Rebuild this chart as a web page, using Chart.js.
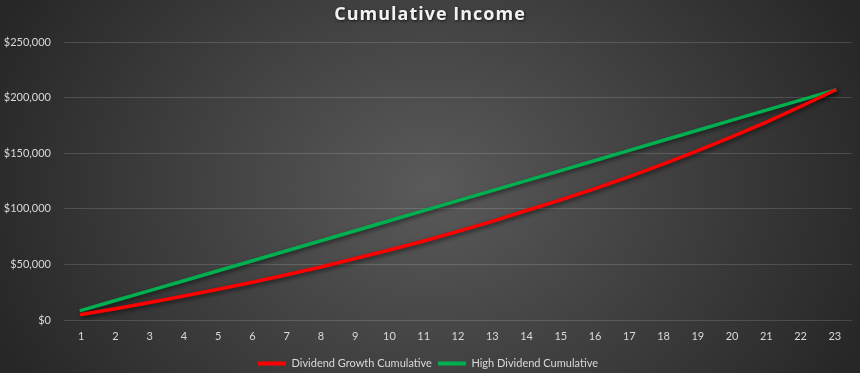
<!DOCTYPE html>
<html>
<head>
<meta charset="utf-8">
<script src="https://cdn.jsdelivr.net/npm/chart.js@4"></script>
<style>
  body { margin: 0; background: #262626; }
  #caixa { width: 860px; height: 373px; position: relative; }
</style>
</head>
<body>
<div id="caixa"><canvas id="grafico_income"></canvas></div>
<script>
// Data
let anos = ['1','2','3','4','5','6','7','8','9','10','11','12','13','14','15','16','17','18','19','20','21','22','23']
let dividend_growth = [5000, 10200, 15800, 21500, 27600, 34000, 40700, 47700, 55300, 62900, 71000, 79700, 88700, 98500, 108000, 118200, 129000, 140400, 152400, 165000, 178000, 192000, 206600]
let high_dividend = [8650, 17500, 26400, 35300, 44300, 53300, 62300, 71300, 80300, 89300, 98300, 107300, 116300, 125300, 134300, 143400, 152500, 161600, 170600, 179700, 188700, 197700, 206700]
let y_ticks = [0, 50000, 100000, 150000, 200000, 250000]

let vermelho = '#ff0000'
let verde = '#00b050'
let texto = '#d9d9d9'

// background: radial gradient like the Excel chart style
const fundo = {
  id: 'fundo',
  beforeDraw(chart) {
    const ctx = chart.ctx
    const w = chart.width, h = chart.height
    ctx.save()
    ctx.translate(w / 2, h / 2)
    ctx.scale(1, 0.8)
    const g = ctx.createRadialGradient(0, 0, 0, 0, 0, 470)
    g.addColorStop(0, '#5a5a5a')
    g.addColorStop(1, '#272727')
    ctx.fillStyle = g
    ctx.fillRect(-w, -h, w * 2, h * 2)
    ctx.restore()
  }
}

// title with letter spacing and shadow
const titulo = {
  id: 'titulo',
  afterDraw(chart) {
    const ctx = chart.ctx
    ctx.save()
    ctx.font = 'bold 18px "Open Sans"'
    ctx.letterSpacing = '1px'
    ctx.fillStyle = '#f2f2f2'
    ctx.textAlign = 'center'
    ctx.textBaseline = 'middle'
    ctx.shadowColor = 'rgba(0,0,0,0.7)'
    ctx.shadowBlur = 3
    ctx.shadowOffsetX = 1
    ctx.shadowOffsetY = 1
    ctx.fillText('Cumulative Income', chart.width / 2, 15)
    ctx.restore()
  }
}

// drop shadow under the lines
const sombra = {
  id: 'sombra',
  beforeDatasetsDraw(chart) {
    const ctx = chart.ctx
    ctx.save()
    ctx.shadowColor = 'rgba(0,0,0,0.55)'
    ctx.shadowBlur = 4
    ctx.shadowOffsetX = 1.5
    ctx.shadowOffsetY = 2
  },
  afterDatasetsDraw(chart) {
    chart.ctx.restore()
  }
}

const c_grafico = document.getElementById('grafico_income').getContext('2d')
new Chart(c_grafico, {
  type: 'line',
  data: {
    labels: anos,
    datasets: [{
      label: 'Dividend Growth Cumulative',
      data: dividend_growth,
      borderColor: vermelho,
      backgroundColor: vermelho,
      borderWidth: 3.5,
      pointRadius: 0,
      tension: 0,
      borderCapStyle: 'round'
    }, {
      label: 'High Dividend Cumulative',
      data: high_dividend,
      borderColor: verde,
      backgroundColor: verde,
      borderWidth: 3.5,
      pointRadius: 0,
      tension: 0,
      borderCapStyle: 'round'
    }]
  },
  options: {
    responsive: true,
    maintainAspectRatio: false,
    animation: false,
    layout: {
      padding: { top: 42, right: 8, left: 4, bottom: -6 }
    },
    scales: {
      x: {
        offset: true,
        afterFit(scale) { scale.height = 32 },
        grid: { display: false, drawTicks: false },
        border: { display: false },
        ticks: {
          color: texto,
          font: { family: 'Lato', size: 11 },
          padding: 10,
          maxRotation: 0,
          autoSkip: false
        }
      },
      y: {
        min: y_ticks[0],
        max: y_ticks[y_ticks.length - 1],
        afterFit(scale) { scale.width = 60 },
        afterBuildTicks(scale) { scale.ticks = y_ticks.map(v => ({ value: v })) },
        grid: { color: 'rgba(255,255,255,0.15)', drawTicks: false },
        border: { display: false },
        ticks: {
          color: texto,
          font: { family: 'Lato', size: 11 },
          padding: 13,
          callback: v => '$' + v.toLocaleString('en-US')
        }
      }
    },
    plugins: {
      title: { display: false },
      tooltip: { enabled: false },
      legend: {
        position: 'bottom',
        labels: {
          color: texto,
          font: { family: 'Lato', size: 11 },
          boxWidth: 28,
          boxHeight: 4,
          padding: 6,
          generateLabels: (chart) => Chart.defaults.plugins.legend.labels.generateLabels(chart).map(l => ({ ...l, lineWidth: 0 }))
        }
      }
    }
  },
  plugins: [fundo, sombra, titulo]
})
</script>
</body>
</html>
